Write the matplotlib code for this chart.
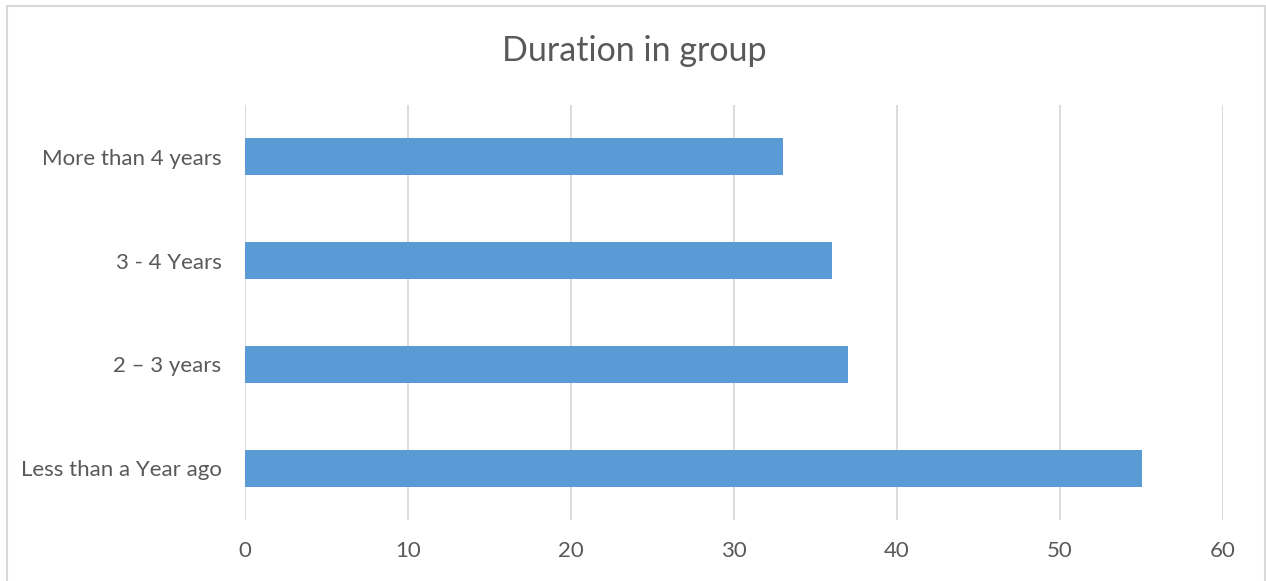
import matplotlib.pyplot as plt
from matplotlib.patches import Rectangle

categories = ['Less than a Year ago', '2 \u2013 3 years', '3 - 4 Years', 'More than 4 years']
values = [55, 37, 36, 33]
xticks = [0, 10, 20, 30, 40, 50, 60]

W, H = 1266, 581
text_col = '#595959'
grid_col = '#D9D9D9'
bar_col = '#5B9BD5'

plt.rcParams['font.family'] = ['Lato', 'DejaVu Sans']

fig = plt.figure(figsize=(W / 100, H / 100), dpi=100)
ax = fig.add_axes([245 / W, (H - 520) / H, (1223 - 245) / W, (520 - 105) / H])

ax.barh(range(len(categories)), values, height=0.357, color=bar_col, zorder=3)
ax.set_xlim(0, 60)
ax.set_ylim(-0.5, len(categories) - 0.5)
ax.set_xticks(xticks)
ax.set_yticks(range(len(categories)))
ax.set_yticklabels(categories)
ax.grid(axis='x', color=grid_col, linewidth=1.3, zorder=0)
for s in ax.spines.values():
    s.set_visible(False)
ax.tick_params(axis='both', length=0, labelsize=16, colors=text_col)
ax.tick_params(axis='y', pad=17)
ax.tick_params(axis='x', pad=15)

fig.text(634 / W, 1 - 51 / H, 'Duration in group', ha='center', va='center',
         fontsize=24.5, color=text_col)

# outer frame, open at the bottom edge of the image
fig.patches.append(Rectangle((7 / W, -10 / H), (1265 - 7) / W, (H - 6 + 10) / H,
                             transform=fig.transFigure, fill=False,
                             edgecolor=grid_col, linewidth=1.5))

fig.savefig('out.png', dpi=100)
